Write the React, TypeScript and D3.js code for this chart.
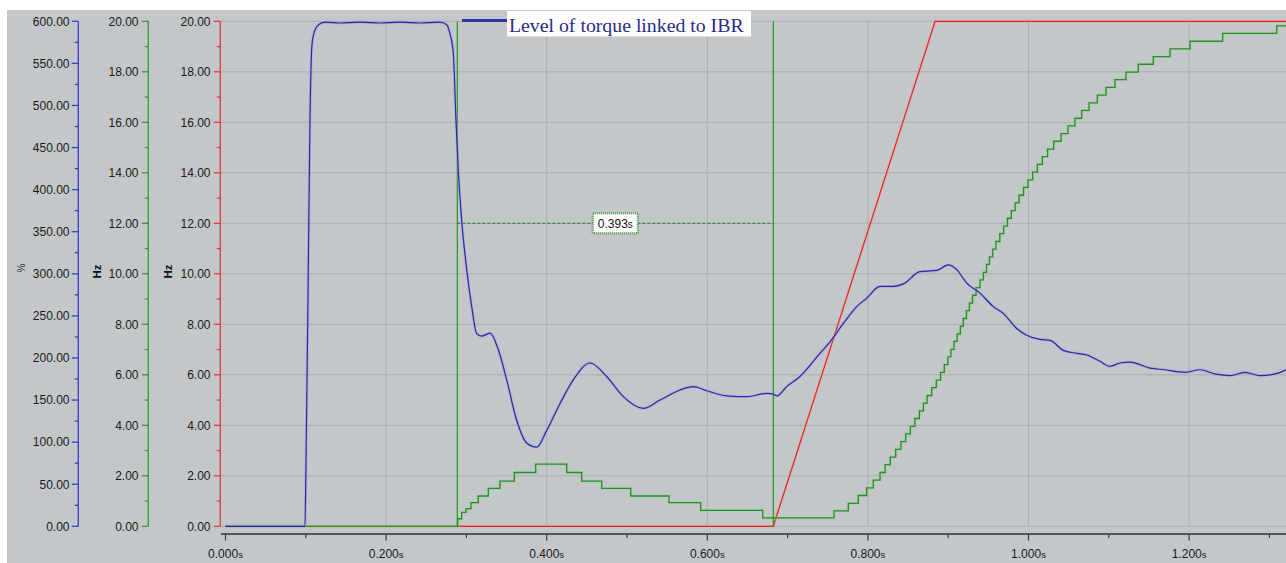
import React from 'react';
import * as d3 from 'd3';

// ---- data ----
const blueT = [0, 0.0990, 0.1002, 0.1027, 0.1052, 0.1077, 0.1115, 0.1177, 0.1239, 0.1426, 0.1675, 0.1924, 0.2173, 0.2422, 0.2671, 0.2755, 0.2796, 0.2837, 0.2870, 0.2899, 0.2941, 0.3004, 0.3066, 0.3128, 0.3191, 0.3294, 0.3397, 0.3502, 0.3626, 0.3751, 0.3875, 0.4000, 0.4166, 0.4331, 0.4539, 0.4747, 0.4954, 0.5203, 0.5411, 0.5660, 0.5826, 0.5993, 0.6242, 0.6491, 0.6740, 0.6822, 0.6864, 0.6989, 0.7154, 0.7403, 0.7528, 0.7694, 0.7861, 0.7985, 0.8151, 0.8316, 0.8441, 0.8649, 0.8857, 0.9001, 0.9106, 0.9230, 0.9396, 0.9562, 0.9686, 0.9853, 0.9978, 1.0143, 1.0268, 1.0433, 1.0600, 1.0725, 1.0890, 1.1015, 1.1139, 1.1264, 1.1513, 1.1700, 1.1949, 1.2136, 1.2323, 1.2509, 1.2696, 1.2883, 1.3070, 1.3207];
const bluePct = [0, 0, 72, 269, 483, 572, 590, 597, 599, 598, 599, 598, 599, 598, 599, 596, 585, 562, 483, 423, 364, 305, 261, 229, 226, 229.5, 210, 174, 126, 99, 94, 114, 146, 174, 194, 178, 154, 140, 150, 162, 166, 161, 155, 154, 158, 157, 155, 166, 178, 205.5, 219, 241, 261, 271, 285, 285, 288, 302.5, 304, 310.5, 305, 289, 277, 261, 253, 235, 227, 222, 221, 209, 205.5, 203.5, 196, 190, 194, 195, 188, 186, 183, 186, 181, 179, 183, 179, 181, 186];

const greenT = [0, 0.2892, 0.2941, 0.2995, 0.3057, 0.3148, 0.3273, 0.3418, 0.3597, 0.3863, 0.4249, 0.4436, 0.4685, 0.5046, 0.5523, 0.5918, 0.6690,
  0.7578, 0.7756, 0.7880, 0.7985, 0.8067, 0.8151, 0.8214, 0.8279, 0.8346, 0.8411,
  0.8471, 0.8528, 0.8585, 0.8641, 0.8691, 0.8738, 0.8795, 0.8852, 0.8905, 0.8951,
  0.8996, 0.9034, 0.9072, 0.9111, 0.9151, 0.9188, 0.9227, 0.9264, 0.9303, 0.9347,
  0.9396, 0.9438, 0.9477, 0.9514, 0.9554, 0.9594, 0.9643, 0.9690, 0.9738, 0.9786,
  0.9834, 0.9882, 0.9938, 0.9994, 1.0052, 1.0110, 1.0172, 1.0238, 1.0314, 1.0405,
  1.0492, 1.0579, 1.0663, 1.0753, 1.0857, 1.0965, 1.1077, 1.1214, 1.1367, 1.1554,
  1.1762, 1.2011, 1.2418, 1.3091, 1.3207];
const greenHz = [0, 0.30, 0.55, 0.70, 0.94, 1.20, 1.50, 1.79, 2.13, 2.46, 2.13, 1.79, 1.50, 1.20, 0.94, 0.63, 0.33,
  0.61, 0.91, 1.22, 1.52, 1.83, 2.13, 2.44, 2.74, 3.05, 3.35,
  3.66, 3.96, 4.27, 4.57, 4.88, 5.18, 5.49, 5.79, 6.10, 6.40,
  6.71, 7.01, 7.32, 7.62, 7.93, 8.23, 8.54, 8.84, 9.15, 9.45,
  9.76, 10.06, 10.37, 10.67, 10.98, 11.28, 11.59, 11.89, 12.20, 12.50,
  12.81, 13.11, 13.42, 13.72, 14.03, 14.33, 14.64, 14.94, 15.25, 15.55,
  15.86, 16.16, 16.47, 16.77, 17.08, 17.38, 17.69, 17.99, 18.30, 18.60,
  18.91, 19.21, 19.52, 19.82, 19.82];

const redT = [0, 0.6822, 0.8837, 1.3207];
const redHz = [0, 0, 20, 20];

const cursorT = [0.2887, 0.6822];
const cursorLevelHz = 12;
const cursorLabel = '0.393';
const legendLabel = 'Level of torque linked to IBR';

const pctTicks = [0, 50, 100, 150, 200, 250, 300, 350, 400, 450, 500, 550, 600];
const pctMinor = [25, 75, 125, 175, 225, 275, 325, 375, 425, 475, 525, 575];
const hzTicks = [0, 2, 4, 6, 8, 10, 12, 14, 16, 18, 20];
const hzMinor = [1, 3, 5, 7, 9, 11, 13, 15, 17, 19];
const timeTicks = [0, 0.2, 0.4, 0.6, 0.8, 1.0, 1.2];
const timeMinor = [0.1, 0.3, 0.5, 0.7, 0.9, 1.1, 1.3];

const W = 1286, H = 563;
const BG = '#c4c7c9';
const GRID = '#abaeb1';
const FONT = '"Liberation Sans", Arial, sans-serif';

export default function App() {
  const x = d3.scaleLinear().domain([0, 1.4]).range([225.5, 225.5 + 803 * 1.4]);
  const yHz = d3.scaleLinear().domain([0, 20]).range([526.3, 21.3]);
  const yPct = d3.scaleLinear().domain([0, 600]).range([526.3, 21.3]);
  const f2 = d3.format('.2f');
  const f3 = d3.format('.3f');

  const blueLine = d3.line<number>().curve(d3.curveMonotoneX).x((_, i) => x(blueT[i])).y((d) => yPct(d))(bluePct) || '';
  const greenLine = d3.line<number>().curve(d3.curveStepAfter).x((_, i) => x(greenT[i])).y((d) => yHz(d))(greenHz) || '';
  const redLine = d3.line<number>().x((_, i) => x(redT[i])).y((d) => yHz(d))(redHz) || '';

  const axis = (ax: number, color: string, ticks: number[], minor: number[], sc: d3.ScaleLinear<number, number>, labelEnd: number) => (
    <g>
      <line x1={ax} x2={ax} y1={sc(sc.domain()[1])} y2={sc(0)} stroke={color} strokeWidth={1.3} />
      {ticks.map((t) => (
        <g key={'M' + t}>
          <line x1={ax - 6.5} x2={ax} y1={sc(t)} y2={sc(t)} stroke={color} strokeWidth={1.3} />
          <text x={labelEnd} y={sc(t)} dy="0.36em" textAnchor="end" fontSize={12} fill="#1a1a1a" fontFamily={FONT}>{f2(t)}</text>
        </g>
      ))}
      {minor.map((t) => (
        <line key={'m' + t} x1={ax - 3.5} x2={ax} y1={sc(t)} y2={sc(t)} stroke={color} strokeWidth={1.3} />
      ))}
    </g>
  );

  const cx1 = x(cursorT[0]);
  const cx2 = x(cursorT[1]);
  const cy = yHz(cursorLevelHz);
  const mid = (cx1 + cx2) / 2;

  return (
    <svg width={W} height={H} style={{ position: 'absolute', left: 0, top: 0, display: 'block', background: '#fff' }}>
      <rect x={7} y={10} width={W - 7} height={H - 10} fill={BG} />
      {/* grid */}
      {hzTicks.map((t) => (
        <line key={'gh' + t} x1={221} x2={W} y1={yHz(t)} y2={yHz(t)} stroke={GRID} strokeWidth={1} />
      ))}
      {timeTicks.filter((t) => t > 0).map((t) => (
        <line key={'gv' + t} x1={x(t)} x2={x(t)} y1={yHz(20)} y2={yHz(0)} stroke={GRID} strokeWidth={1} />
      ))}

      {/* left axes */}
      {axis(78.3, '#3d3dd0', pctTicks, pctMinor, yPct, 69.5)}
      {axis(148.3, '#2f9d2f', hzTicks, hzMinor, yHz, 138.5)}
      {axis(220.3, '#e23a3a', hzTicks, hzMinor, yHz, 210.5)}
      <text transform="translate(25,268) rotate(-90)" textAnchor="middle" fontSize={10} fill="#333" fontFamily={FONT}>%</text>
      <text transform="translate(100.5,271.5) rotate(-90)" textAnchor="middle" fontSize={11.5} fontWeight="bold" fill="#111" fontFamily={FONT}>Hz</text>
      <text transform="translate(172,271.5) rotate(-90)" textAnchor="middle" fontSize={11.5} fontWeight="bold" fill="#111" fontFamily={FONT}>Hz</text>

      {/* x axis */}
      <line x1={221} x2={W} y1={534} y2={534} stroke="#55575a" strokeWidth={2} />
      {timeTicks.map((t) => (
        <g key={'xt' + t}>
          <line x1={x(t)} x2={x(t)} y1={534} y2={540.5} stroke="#3a3a3a" strokeWidth={1.2} />
          <text x={x(t)} y={557.5} textAnchor="middle" fontSize={12} fill="#1a1a1a" fontFamily={FONT}>
            {f3(t)}<tspan fontSize={9.5}>s</tspan>
          </text>
        </g>
      ))}
      {timeMinor.map((t) => (
        <line key={'xm' + t} x1={x(t)} x2={x(t)} y1={534} y2={538} stroke="#3a3a3a" strokeWidth={1.2} />
      ))}

      {/* series: red under green under blue */}
      <path d={redLine} fill="none" stroke="#f0a0a0" strokeWidth={3} opacity={0.45} />
      <path d={redLine} fill="none" stroke="#e02828" strokeWidth={1.2} />
      <path d={greenLine} fill="none" stroke="#8fd88f" strokeWidth={3} opacity={0.5} />
      <path d={greenLine} fill="none" stroke="#2f8a2f" strokeWidth={1.3} />

      {/* cursors */}
      <line x1={cx1} x2={cx1} y1={yHz(20)} y2={yHz(0)} stroke="#1f9a1f" strokeWidth={1.2} />
      <line x1={cx2} x2={cx2} y1={yHz(20)} y2={yHz(0)} stroke="#1f9a1f" strokeWidth={1.2} />
      <line x1={cx1} x2={cx2} y1={cy} y2={cy} stroke="#2a7a2a" strokeWidth={1} strokeDasharray="3,2" />

      <path d={blueLine} fill="none" stroke="#a0a0e0" strokeWidth={3} opacity={0.5} />
      <path d={blueLine} fill="none" stroke="#2a2a9e" strokeWidth={1.2} />

      {/* cursor label */}
      <rect x={mid - 22.5} y={cy - 10} width={45} height={20} fill="#fff" stroke="#5a9a5a" strokeWidth={2.5} strokeDasharray="1,1" />
      <text x={mid} y={cy + 4.5} textAnchor="middle" fontSize={12} fill="#111" fontFamily={FONT}>
        {cursorLabel}<tspan fontSize={10}>s</tspan>
      </text>

      {/* legend */}
      <line x1={462} x2={507} y1={20.5} y2={20.5} stroke="#3434a4" strokeWidth={3} />
      <rect x={507} y={11} width={244} height={25.5} fill="#fff" />
      <text x={509} y={31.5} fontSize={19.8} fill="#2b2b86" fontFamily='"Liberation Serif", "Times New Roman", serif'>{legendLabel}</text>
    </svg>
  );
}
